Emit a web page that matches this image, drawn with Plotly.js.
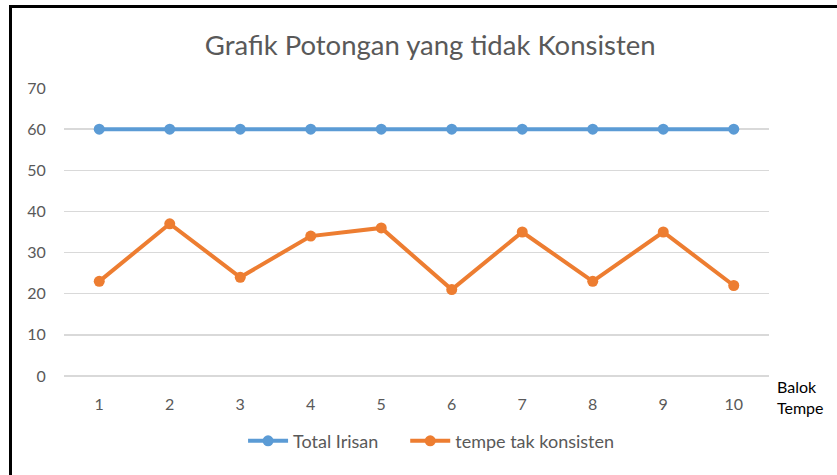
<!DOCTYPE html>
<html>
<head>
<meta charset="utf-8">
<script src="https://cdn.plot.ly/plotly-3.0.1.min.js"></script>
<style>
  html, body { margin: 0; padding: 0; background: #fff; }
  #wrap { position: relative; width: 837px; height: 475px; overflow: hidden; }
  #chart { position: absolute; left: 0; top: 0; width: 837px; height: 475px; }
  #frame { position: absolute; left: 9px; top: 5px; width: 840px; height: 468px;
           border-left: 3px solid #000; border-top: 3px solid #000;
           border-bottom: 1px solid #e6e6e6; pointer-events: none; }
</style>
</head>
<body>
<div id="wrap">
  <div id="chart"></div>
  <div id="frame"></div>
</div>
<script>
const categories = [1, 2, 3, 4, 5, 6, 7, 8, 9, 10];
const totalIrisan = [60, 60, 60, 60, 60, 60, 60, 60, 60, 60];
const tempeTakKonsisten = [23, 37, 24, 34, 36, 21, 35, 23, 35, 22];
const seriesNames = ["Total Irisan", "tempe tak konsisten"];
const titleText = "Grafik Potongan yang tidak Konsisten";
const xTitle = "Balok<br>Tempe";
const yTicks = [0, 10, 20, 30, 40, 50, 60, 70];

const FONT = "Lato, 'Open Sans', sans-serif";

const traces = [
  {
    x: categories, y: totalIrisan, name: seriesNames[0],
    type: "scatter", mode: "lines+markers",
    line: { color: "#5B9BD5", width: 4 },
    marker: { color: "#5B9BD5", size: 11 },
    legend: "legend"
  },
  {
    x: categories, y: tempeTakKonsisten, name: seriesNames[1],
    type: "scatter", mode: "lines+markers",
    line: { color: "#ED7D31", width: 4 },
    marker: { color: "#ED7D31", size: 11 },
    legend: "legend2"
  }
];

const legendBase = {
  orientation: "h",
  xanchor: "left",
  y: -0.226, yanchor: "middle",
  font: { family: FONT, size: 18, color: "#595959" },
  itemwidth: 40,
  bgcolor: "rgba(0,0,0,0)"
};

const layout = {
  width: 837, height: 475,
  margin: { l: 64, r: 68, t: 88, b: 99 },
  paper_bgcolor: "#fff", plot_bgcolor: "#fff",
  font: { family: FONT, color: "#595959", size: 15 },
  title: {
    text: titleText,
    font: { family: FONT, size: 27.5, color: "#595959" },
    x: 0.514, xref: "container", xanchor: "center",
    y: 0.905, yref: "container", yanchor: "middle"
  },
  xaxis: {
    range: [0.5, 10.5],
    tickvals: categories,
    ticktext: categories.map(String),
    showgrid: false, zeroline: false, showline: false,
    ticks: "outside", ticklen: 14, tickcolor: "rgba(0,0,0,0)",
    tickfont: { family: FONT, size: 16, color: "#595959" },
    fixedrange: true
  },
  yaxis: {
    range: [0, 70],
    tickvals: yTicks,
    showgrid: true, gridcolor: "#d9d9d9", gridwidth: 1.5,
    zeroline: true, zerolinecolor: "#d9d9d9", zerolinewidth: 1.5,
    showline: false,
    ticks: "outside", ticklen: 14, tickcolor: "rgba(0,0,0,0)",
    tickfont: { family: FONT, size: 16, color: "#595959" },
    fixedrange: true
  },
  showlegend: true,
  legend: Object.assign({}, legendBase, { x: 0.254 }),
  legend2: Object.assign({}, legendBase, { x: 0.484 }),
  annotations: [
    {
      text: xTitle, xref: "paper", yref: "paper",
      x: 1.008, y: -0.073, xanchor: "left", yanchor: "middle",
      align: "left", showarrow: false,
      font: { family: FONT, size: 16, color: "#000" }
    }
  ]
};

Plotly.newPlot("chart", traces, layout, { displayModeBar: false, staticPlot: true });
</script>
</body>
</html>
